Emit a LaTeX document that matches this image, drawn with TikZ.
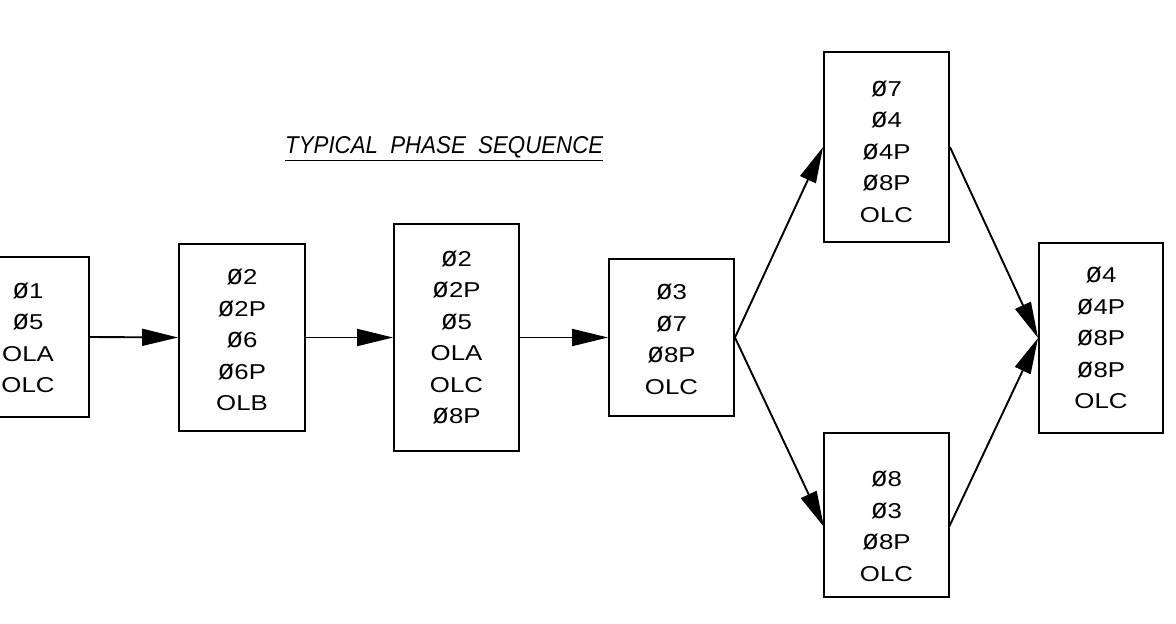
\documentclass[tikz,border=0pt]{standalone}
\usepackage{fontspec}
\setmainfont{Liberation Sans}
\newfontfamily\boxfont[FakeStretch=1.2]{Liberation Sans}
\usetikzlibrary{arrows.meta}
\newcommand\phs{\scalebox{1.05}[1.32]{ø}}
\begin{document}
\begin{tikzpicture}[x=1pt,y=-1pt,
  phasebox/.style={draw, line width=1.9pt, inner sep=0pt, minimum width=125pt},
  phasetxt/.style={inner sep=0pt, align=center, font=\boxfont\fontsize{21.5}{31.5}\selectfont},
  flow/.style={line width=1.9pt, -{Triangle[length=36pt,width=17pt]}}]
\useasboundingbox (0,0) rectangle (1176,624);
\fill[white] (0,0) rectangle (1176,624);
\clip (0,0) rectangle (1176,624);
% boxes
\node[phasebox, minimum width=123pt, minimum height=160pt] (b1) at (27.5,337) {};
\node[phasebox, minimum width=126pt, minimum height=187pt] (b2) at (242,337.5) {};
\node[phasebox, minimum height=227pt] (b3) at (456.5,337.5) {};
\node[phasebox, minimum height=157pt] (b4) at (671.5,337.5) {};
\node[phasebox, minimum height=190pt] (b5) at (886.5,147) {};
\node[phasebox, minimum height=164pt] (b6) at (886.5,515) {};
\node[phasebox, minimum width=124pt, minimum height=190pt] (b7) at (1101,338) {};
% texts
\node[phasetxt] (t1) at (28,338) {\phs1\\\phs5\\OLA\\OLC};
\node[phasetxt] (t2) at (242,340) {\phs2\\\phs2P\\\phs6\\\phs6P\\OLB};
\node[phasetxt] (t3) at (456.5,337.5) {\phs2\\\phs2P\\\phs5\\OLA\\OLC\\\phs8P};
\node[phasetxt] (t4) at (671.5,339.5) {\phs3\\\phs7\\\phs8P\\OLC};
\node[phasetxt] (t5) at (886.5,151.5) {\phs7\\\phs4\\\phs4P\\\phs8P\\OLC};
\node[phasetxt] (t6) at (886.5,526.5) {\phs8\\\phs3\\\phs8P\\OLC};
\node[phasetxt] (t7) at (1101,338) {\phs4\\\phs4P\\\phs8P\\\phs8P\\OLC};
% title
\node[anchor=base west, inner sep=0pt] (title) at (285,153.5)
  {\resizebox{318pt}{17pt}{\itshape TYPICAL\ \ PHASE\ \ SEQUENCE}};
\draw[line width=1.6pt] ([yshift=-7pt]title.base west) -- ([yshift=-7pt]title.base east);
% connectors
\coordinate (b6in) at (824,527);
\coordinate (b6out) at (949,527);
\draw[flow] (b1.east) -- (b2.west);
\draw[flow] (b2.east) -- (b3.west);
\draw[flow] (b3.east) -- (b4.west);
\draw[flow] (b4.east) -- (b5.west);
\draw[flow] (b4.east) -- (b6in);
\draw[flow] (b5.east) -- (b7.west);
\draw[flow] (b6out) -- (b7.west);
\end{tikzpicture}
\end{document}
